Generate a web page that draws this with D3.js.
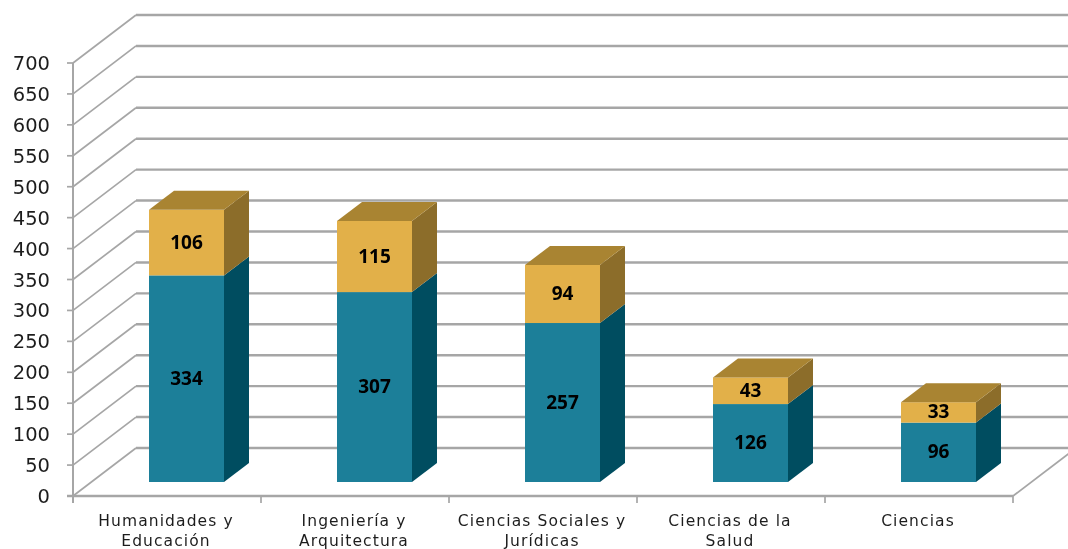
<!DOCTYPE html>
<html><head><meta charset="utf-8">
<script src="https://cdnjs.cloudflare.com/ajax/libs/d3/7.8.5/d3.min.js"></script>
<style>html,body{margin:0;padding:0;background:#fff;overflow:hidden}svg{display:block}</style>
</head><body><svg id="c" width="1068" height="549"></svg>
<script>
const categories=[["Humanidades y","Educación"],["Ingeniería y","Arquitectura"],["Ciencias Sociales y","Jurídicas"],["Ciencias de la","Salud"],["Ciencias"]];
const bottomValues=[334,307,257,126,96];
const topValues=[106,115,94,43,33];
const yTicks=d3.range(0,701,50);

const svg=d3.select("#c");
const defs=svg.append("defs");
defs.append("filter").attr("id","soft").attr("x","-5%").attr("y","-5%").attr("width","110%").attr("height","110%")
  .append("feGaussianBlur").attr("stdDeviation",0.7);
const root=svg.append("g").attr("filter","url(#soft)");

const x0=73,x1=1013,yBase=496,yTop=63;
const wallDx=63,wallDy=48;
const y=d3.scaleLinear().domain([0,700]).range([yBase,yTop]);
const x=d3.scaleBand().domain(d3.range(categories.length)).range([x0,x1]);
const gridCol="#a6a6a6";
const barOffX=76,barW=75,barLift=14,dx=25,dy=19;

// back wall gridlines and side wall
root.selectAll(".back").data(yTicks).join("line")
  .attr("x1",x0+wallDx).attr("x2",1068).attr("y1",d=>y(d)-wallDy).attr("y2",d=>y(d)-wallDy)
  .attr("stroke",gridCol).attr("stroke-width",2.4);
root.selectAll(".side").data(yTicks).join("line")
  .attr("x1",x0).attr("x2",x0+wallDx).attr("y1",d=>y(d)).attr("y2",d=>y(d)-wallDy)
  .attr("stroke",gridCol).attr("stroke-width",1.7);
// floor right edge
root.append("line").attr("x1",x1).attr("y1",yBase).attr("x2",x1+wallDx).attr("y2",yBase-wallDy)
  .attr("stroke",gridCol).attr("stroke-width",1.7);
// axes
root.append("line").attr("x1",x0).attr("x2",x0).attr("y1",yTop).attr("y2",yBase+7).attr("stroke",gridCol).attr("stroke-width",2);
root.append("line").attr("x1",x0-6).attr("x2",x1).attr("y1",yBase).attr("y2",yBase).attr("stroke",gridCol).attr("stroke-width",2.4);
root.selectAll(".yt").data(yTicks).join("line")
  .attr("x1",x0-6).attr("x2",x0).attr("y1",d=>y(d)).attr("y2",d=>y(d)).attr("stroke",gridCol).attr("stroke-width",1.7);
root.selectAll(".xt").data(d3.range(categories.length+1)).join("line")
  .attr("x1",d=>x0+d*x.step()).attr("x2",d=>x0+d*x.step()).attr("y1",yBase).attr("y2",yBase+7).attr("stroke",gridCol).attr("stroke-width",1.7);
// y labels
root.selectAll(".yl").data(yTicks).join("text")
  .attr("x",50).attr("y",d=>y(d)+7).attr("text-anchor","end")
  .attr("font-family","'DejaVu Sans'").attr("font-size",19.5).attr("fill","#1f1f1f").text(d=>d);

// bars
const yv=v=>y(v)-barLift;
function segment(g,i,a,b,cFront,cSide,cTop){
  const l=x(i)+barOffX,r=l+barW,t=yv(b),bt=yv(a);
  g.append("path").attr("d",`M${r},${bt}L${r+dx},${bt-dy}L${r+dx},${t-dy}L${r},${t}Z`).attr("fill",cSide);
  g.append("rect").attr("x",l).attr("y",t).attr("width",barW).attr("height",bt-t).attr("fill",cFront);
  if(cTop) g.append("path").attr("d",`M${l},${t}L${l+dx},${t-dy}L${r+dx},${t-dy}L${r},${t}Z`).attr("fill",cTop);
}
categories.forEach((c,i)=>{
  const g=root.append("g");
  const a=bottomValues[i],b=topValues[i];
  segment(g,i,0,a,"#1a7f99","#004d61",null);
  segment(g,i,a,a+b,"#e2b04a","#8c6d2a","#a98433");
  const cx=x(i)+barOffX+barW/2;
  [[0,a],[a,a+b]].forEach(([s,e])=>{
    g.append("text").attr("x",cx).attr("y",(yv(s)+yv(e))/2+6).attr("text-anchor","middle")
      .attr("font-family","'Open Sans'").attr("font-weight",700).attr("font-size",19).attr("fill","#000").text(e-s);
  });
});
// category labels
categories.forEach((lines,i)=>{
  const cx=x(i)+x.bandwidth()/2-1;
  lines.forEach((t,j)=>{
    root.append("text").attr("x",cx).attr("y",526+j*20).attr("text-anchor","middle")
      .attr("font-family","'DejaVu Sans'").attr("font-size",15.5).attr("letter-spacing",1.1).attr("fill","#1f1f1f").text(t);
  });
});
</script></body></html>
